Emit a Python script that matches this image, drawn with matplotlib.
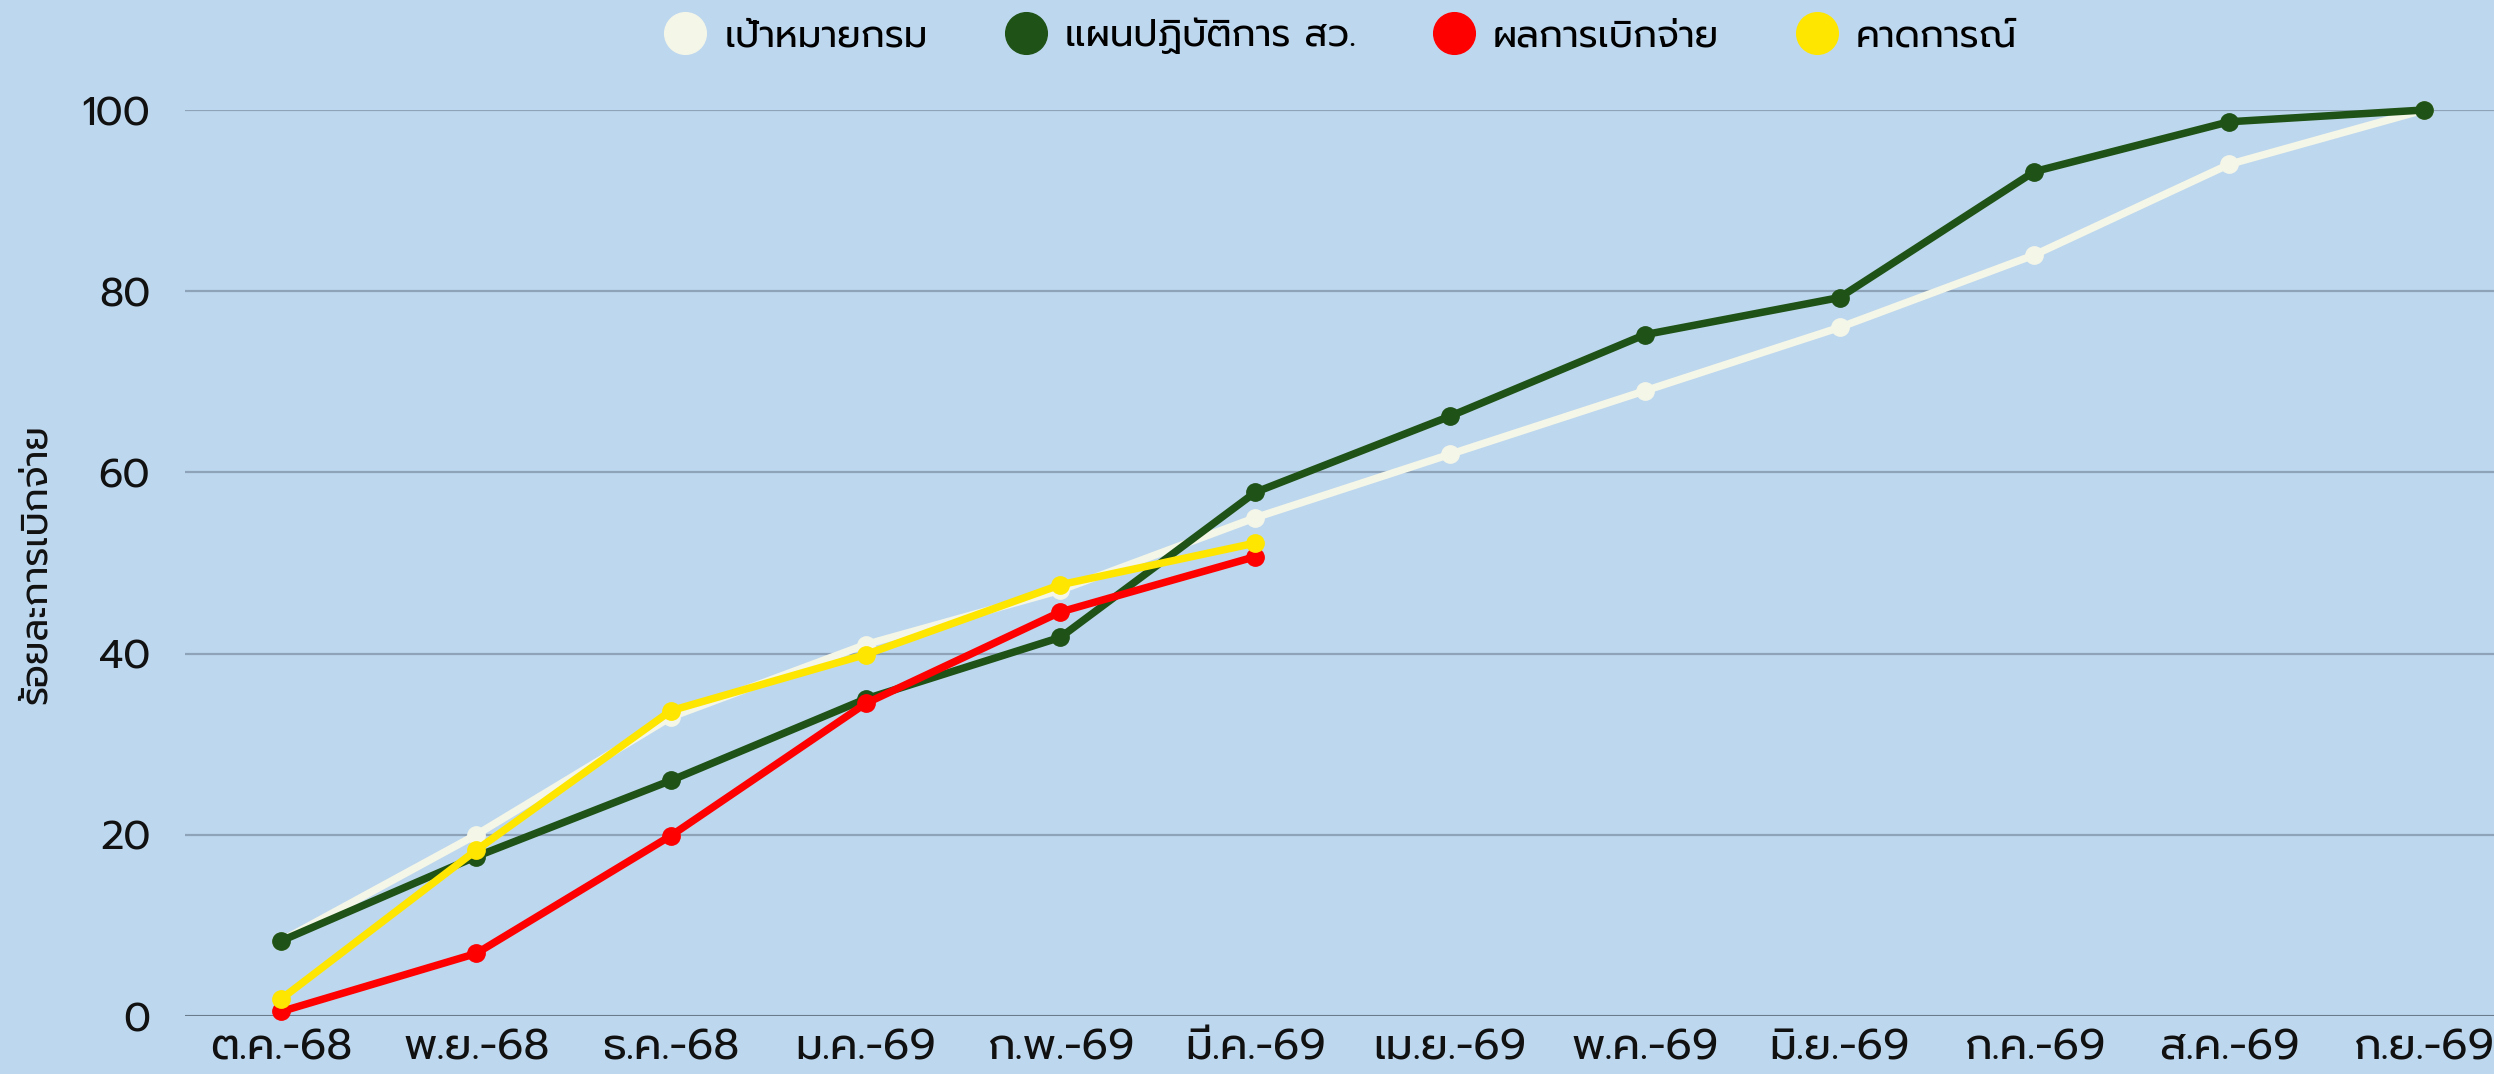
import matplotlib
matplotlib.use("Agg")
import matplotlib.pyplot as plt
from matplotlib.lines import Line2D

FONT = ['Prompt', 'DejaVu Sans']
plt.rcParams['font.family'] = FONT

months = ['ต.ค.-68', 'พ.ย.-68', 'ธ.ค.-68', 'ม.ค.-69', 'ก.พ.-69', 'มี.ค.-69',
          'เม.ย.-69', 'พ.ค.-69', 'มิ.ย.-69', 'ก.ค.-69', 'ส.ค.-69', 'ก.ย.-69']
target = [8.3, 20.0, 33.0, 41.0, 47.0, 55.0, 62.0, 69.0, 76.0, 84.0, 94.0, 100.0]
plan = [8.3, 17.6, 26.0, 35.0, 41.8, 57.8, 66.2, 75.2, 79.3, 93.2, 98.7, 100.0]
actual = [0.5, 6.9, 19.9, 34.5, 44.6, 50.7]
forecast = [1.9, 18.3, 33.7, 39.9, 47.6, 52.2]

series_names = ['เป้าหมายกรม', 'แผนปฏิบัติการ สว.', 'ผลการเบิกจ่าย', 'คาดการณ์']
colors = ['#F4F6E8', '#1F5216', '#FF0000', '#FFE600']
y_label = 'ร้อยละการเบิกจ่าย'
yticks = [0, 20, 40, 60, 80, 100]

BG = '#BDD7EE'
W, H = 2494, 1074
fig = plt.figure(figsize=(W/100, H/100), dpi=100, facecolor=BG)
ax = fig.add_axes([185/W, 1 - 1016/H, 1 - 185/W, (1016 - 110)/H])
ax.set_facecolor(BG)

x = list(range(len(months)))
data = [target, plan, actual, forecast]
for i, (vals, c) in enumerate(zip(data, colors)):
    ax.plot(x[:len(vals)], vals, color=c, lw=5.4, marker='o', ms=12.5,
            solid_capstyle='round', zorder=3 + i, clip_on=False)

ax.set_ylim(0, 100)
ax.set_xlim(-0.495, 11.36)
ax.set_yticks(yticks)
ax.set_yticklabels([str(v) for v in yticks])
ax.set_xticks(x)
ax.set_xticklabels(months)
ax.tick_params(axis='both', length=0, colors='#111111')
ax.tick_params(axis='x', pad=9, labelsize=31)
ax.tick_params(axis='y', pad=25, labelsize=29)
for s in ax.spines.values():
    s.set_visible(False)
ax.grid(axis='y', color='#8FA3B8', lw=1.6, zorder=1)
ax.axhline(0, color='#5F6E7E', lw=1.8, zorder=2)
fig.text(36/W, 1 - 564/H, y_label, rotation=90, ha='center', va='center',
         fontsize=27, color='#111111')

handles = [Line2D([], [], ls='none', marker='o', ms=30, color=c) for c in colors]
fig.legend(handles, series_names, loc='center', bbox_to_anchor=(1340/W, 1 - 36/H),
           ncol=4, frameon=False, fontsize=27, handletextpad=0.45, columnspacing=2.0,
           handlelength=1.2)

fig.savefig('out.png', dpi=100, facecolor=BG)
